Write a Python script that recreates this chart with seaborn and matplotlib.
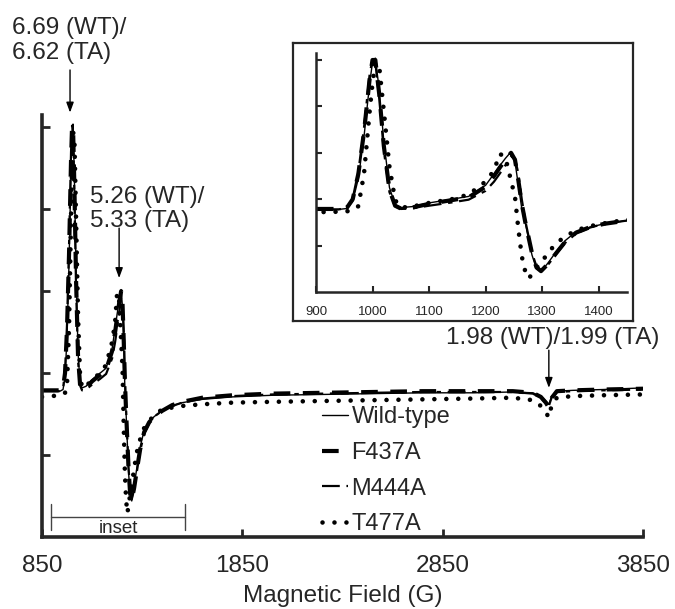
import numpy as np
import pandas as pd
import seaborn as sns
import matplotlib.pyplot as plt

sns.set_style("ticks")
plt.rcParams['font.family'] = ['Liberation Sans', 'DejaVu Sans']

# magnetic field (G)
field = [850, 900, 940, 955, 965, 975, 985, 995, 1000, 1005, 1012, 1020, 1030, 1040, 1050,
         1070, 1100, 1140, 1170, 1200, 1215, 1225, 1235, 1245, 1252, 1258, 1264, 1270, 1276,
         1282, 1290, 1298, 1310, 1325, 1340, 1360, 1385, 1410, 1450, 1500, 1550, 1650, 1800,
         2000, 2250, 2500, 2750, 3000, 3200, 3300, 3340, 3365, 3380, 3395, 3420, 3500, 3650, 3850]

wild_type = [0.78, 0.78, 0.78, 0.80, 0.95, 1.45, 2.35, 3.50, 3.95, 4.04, 3.35, 2.25, 1.25, 0.88, 0.82,
             0.84, 0.92, 1.00, 1.06, 1.30, 1.55, 1.72, 1.88, 2.02, 1.80, 1.30, 0.80, 0.50, 0.15,
             -0.20, -0.50, -0.56, -0.38, -0.13, 0.10, 0.30, 0.40, 0.47, 0.54, 0.60, 0.64, 0.68, 0.71,
             0.73, 0.74, 0.75, 0.76, 0.76, 0.77, 0.76, 0.72, 0.66, 0.62, 0.72, 0.78, 0.79, 0.80, 0.82]

f437a = [0.79, 0.79, 0.79, 0.82, 1.00, 1.55, 2.45, 3.60, 4.00, 4.00, 3.25, 2.15, 1.20, 0.86, 0.80,
         0.82, 0.90, 0.98, 1.04, 1.27, 1.50, 1.68, 1.85, 2.00, 1.85, 1.40, 0.90, 0.52, 0.18,
         -0.16, -0.47, -0.55, -0.40, -0.16, 0.07, 0.28, 0.40, 0.47, 0.54, 0.61, 0.65, 0.70, 0.73,
         0.75, 0.76, 0.77, 0.78, 0.78, 0.78, 0.76, 0.71, 0.64, 0.58, 0.70, 0.78, 0.79, 0.80, 0.81]

m444a = [0.78, 0.78, 0.78, 0.81, 1.02, 1.60, 2.55, 3.70, 4.02, 3.95, 3.15, 2.05, 1.15, 0.85, 0.79,
         0.80, 0.86, 0.93, 0.99, 1.18, 1.38, 1.55, 1.73, 1.92, 1.88, 1.55, 1.00, 0.55, 0.20,
         -0.15, -0.45, -0.54, -0.42, -0.18, 0.05, 0.26, 0.39, 0.47, 0.54, 0.60, 0.64, 0.69, 0.72,
         0.74, 0.75, 0.76, 0.77, 0.77, 0.77, 0.75, 0.70, 0.63, 0.60, 0.71, 0.77, 0.78, 0.79, 0.80]

t477a = [0.71, 0.72, 0.73, 0.74, 0.76, 0.85, 1.55, 2.90, 3.50, 3.95, 3.85, 2.90, 1.70, 0.98, 0.82,
         0.84, 0.92, 1.00, 1.10, 1.38, 1.62, 1.98, 1.90, 1.40, 1.05, 0.35, -0.23, -0.55, -0.71,
         -0.62, -0.48, -0.38, -0.16, 0.05, 0.19, 0.33, 0.42, 0.48, 0.56, 0.58, 0.60, 0.62, 0.64,
         0.65, 0.66, 0.67, 0.68, 0.69, 0.70, 0.67, 0.60, 0.52, 0.46, 0.62, 0.70, 0.72, 0.73, 0.74]

labels = ["Wild-type", "F437A", "M444A", "T477A"]
series = [wild_type, f437a, m444a, t477a]
styles = [dict(lw=1.0, linestyle='-'),
          dict(lw=3.0, linestyle=(0, (4, 3))),
          dict(lw=1.6, linestyle=(0, (8, 3, 2, 3))),
          dict(lw=3.3, linestyle=(0, (0.01, 2.6)), dash_capstyle='round')]

df = pd.DataFrame({"field": field})
for lab, vals in zip(labels, series):
    df[lab] = vals

main_xticks = [850, 1850, 2850, 3850]
inset_xticks = [900, 1000, 1100, 1200, 1300, 1400]
yticks = [0, 1, 2, 3, 4]

fig = plt.figure(figsize=(6.75, 6.09), dpi=100)
ax = fig.add_axes([0.0622, 0.1182, 0.8904, 0.6929])
frame = fig.add_axes([0.4341, 0.4729, 0.5037, 0.4565])
ins = fig.add_axes([0.4681, 0.5205, 0.4607, 0.3924])

for a in (ax, ins):
    for lab, st in zip(labels, styles):
        sns.lineplot(data=df, x="field", y=lab, ax=a, color='black', label=lab, legend=False, **st)
    a.set_ylim(-1, 4.15)
    a.set_yticks(yticks)
    a.set_yticklabels([])
    a.set_xlabel("")
    a.set_ylabel("")
    a.spines['top'].set_visible(False)
    a.spines['right'].set_visible(False)

ax.set_xlim(850, 3850)
ax.set_xticks(main_xticks)
ax.set_xticklabels([str(t) for t in main_xticks], fontsize=17.5)
ax.tick_params(direction='in', length=6, width=2, pad=13)
for s in ('left', 'bottom'):
    ax.spines[s].set_linewidth(2.6)
ax.set_xlabel("Magnetic Field (G)", fontsize=17.5, labelpad=5.5)

ins.set_xlim(900, 1450)
ins.set_xticks(inset_xticks)
ins.set_xticklabels([str(t) for t in inset_xticks], fontsize=9.5)
ins.tick_params(direction='in', length=4, width=1.5, pad=10)
for s in ('left', 'bottom'):
    ins.spines[s].set_linewidth(1.8)

frame.set_xticks([])
frame.set_yticks([])
for s in frame.spines.values():
    s.set_linewidth(1.6)

# legend
handles = ax.get_lines()[:4]
ax.legend(handles, labels, loc='upper left', bbox_to_anchor=(0.466, 0.31), frameon=False,
          fontsize=17, handlelength=1.1, handletextpad=0.15, labelspacing=0.58,
          borderpad=0, borderaxespad=0)

# inset range bracket
ax.plot([895, 1565], [-0.756, -0.756], color='#444444', lw=1)
ax.plot([895, 895], [-0.6, -0.915], color='#444444', lw=1)
ax.plot([1565, 1565], [-0.6, -0.915], color='#444444', lw=1)
ax.text(1230, -0.89, "inset", ha='center', va='center', fontsize=13.5)

# g-value annotations
arrow = dict(arrowstyle='-|>,head_length=0.6,head_width=0.22', color='black', lw=1,
             shrinkA=0, shrinkB=0)
ax.text(700, 5.06, "6.69 (WT)/\n6.62 (TA)", ha='left', va='center', fontsize=17.5,
        linespacing=1.15, clip_on=False)
ax.annotate("", xy=(990, 4.18), xytext=(990, 4.70), arrowprops=arrow, annotation_clip=False)
ax.text(1090, 3.0, "5.26 (WT)/\n5.33 (TA)", ha='left', va='center', fontsize=17.5,
        linespacing=1.1, clip_on=False)
ax.annotate("", xy=(1235, 2.16), xytext=(1235, 2.77), arrowprops=arrow, annotation_clip=False)
ax.text(3400, 1.43, "1.98 (WT)/1.99 (TA)", ha='center', va='center', fontsize=17.5,
        clip_on=False)
ax.annotate("", xy=(3380, 0.82), xytext=(3380, 1.28), arrowprops=arrow, annotation_clip=False)

fig.savefig("out.png", dpi=100)
